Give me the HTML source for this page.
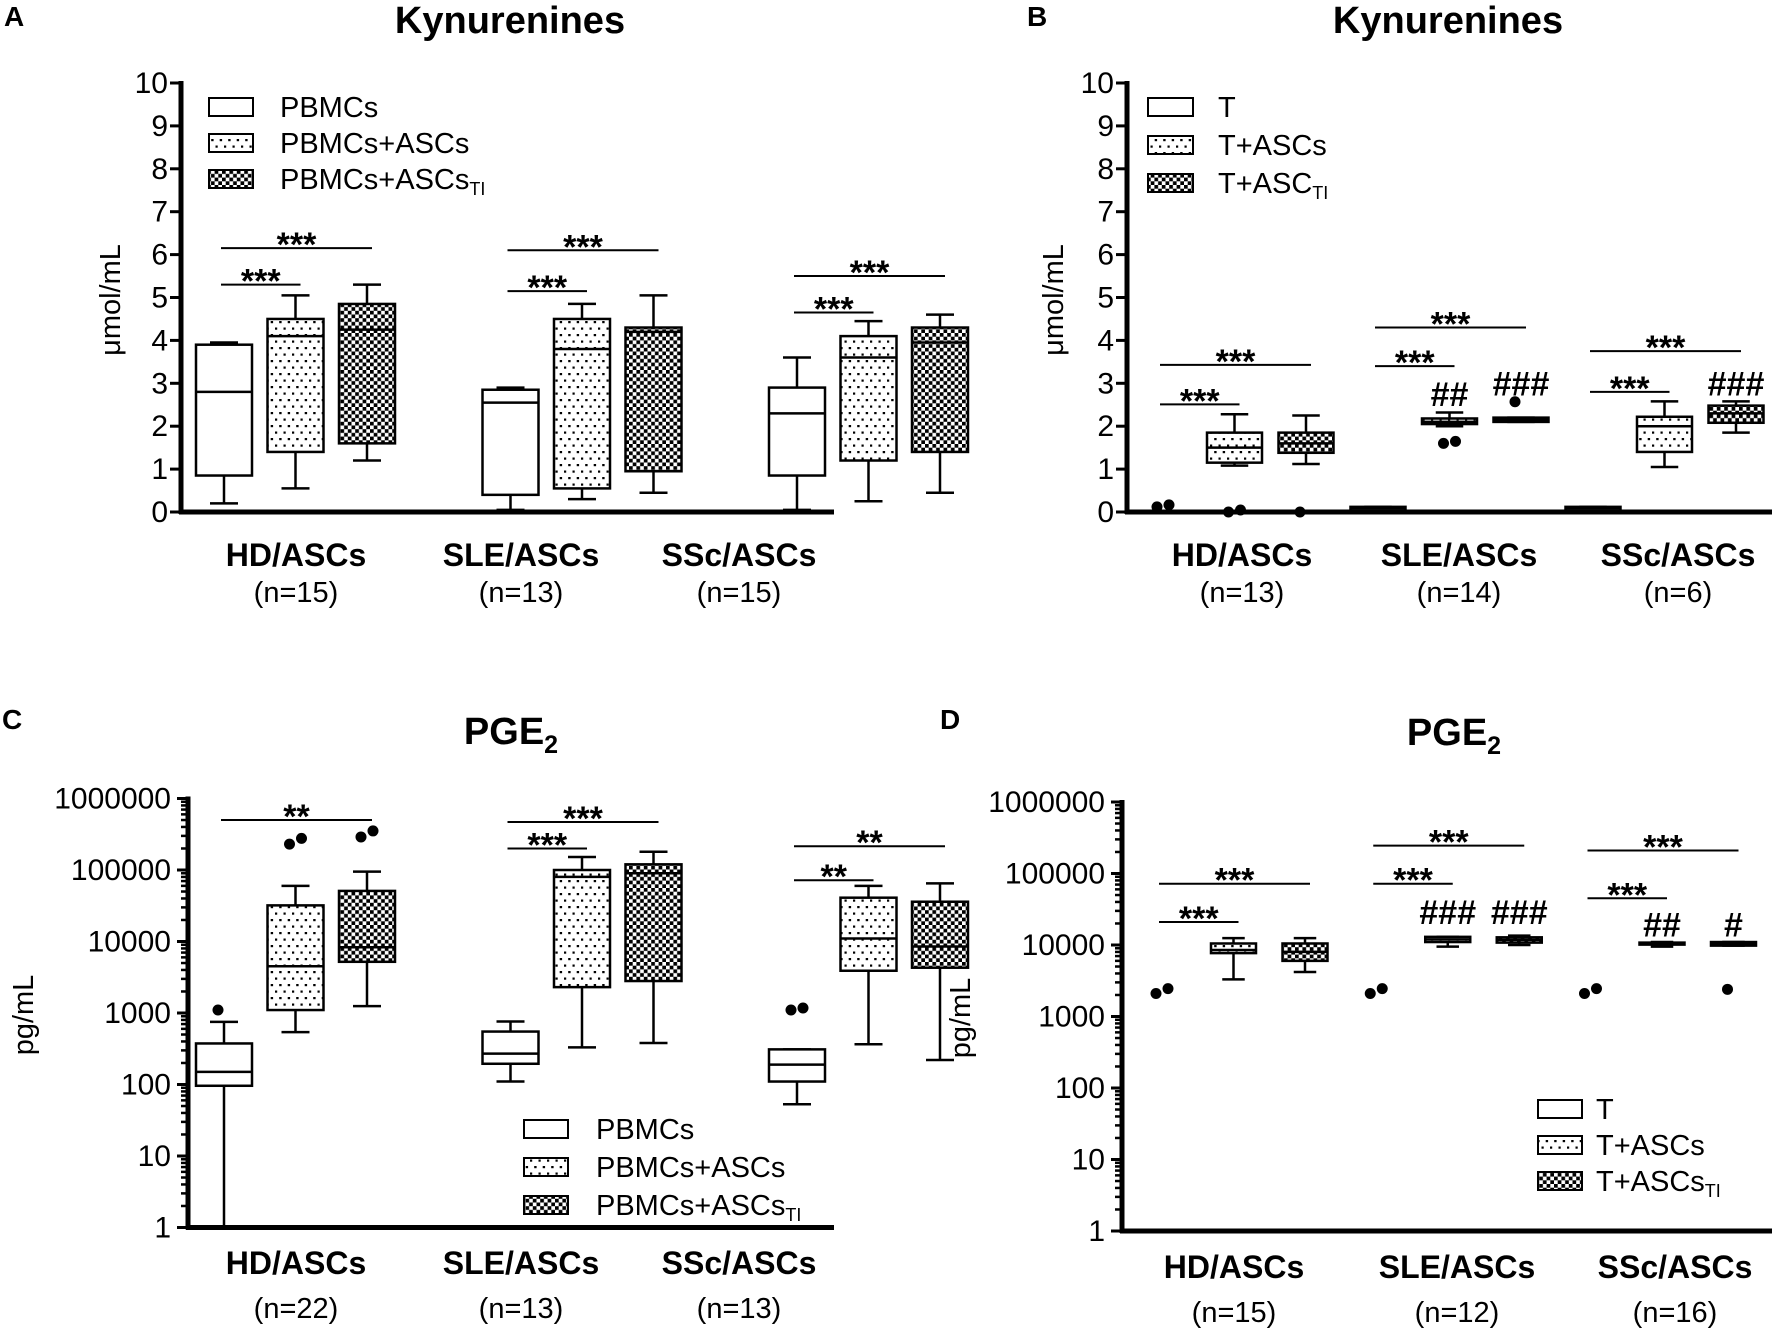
<!DOCTYPE html>
<html><head><meta charset="utf-8">
<style>
html,body{margin:0;padding:0;background:#fff;overflow:hidden;}
svg{display:block;font-family:"Liberation Sans",Arial,sans-serif;}
</style></head>
<body>
<svg id="fig" width="1772" height="1330" viewBox="0 0 1772 1330" xmlns="http://www.w3.org/2000/svg">
<defs>
<pattern id="dots" width="8.5" height="13" patternUnits="userSpaceOnUse">
<rect width="8.5" height="13" fill="#fff"/>
<rect x="3" y="2.5" width="2.2" height="2.2" fill="#000"/>
<rect x="7.2" y="9" width="2.2" height="2.2" fill="#000"/>
<rect x="-1.1" y="9" width="2.2" height="2.2" fill="#000"/>
</pattern>
<pattern id="check" width="7.4" height="7.4" patternUnits="userSpaceOnUse">
<rect width="7.4" height="7.4" fill="#fff"/>
<rect x="0" y="0" width="3.7" height="3.7" fill="#000"/>
<rect x="3.7" y="3.7" width="3.7" height="3.7" fill="#000"/>
</pattern>
</defs>
<g id="root"></g>
</svg>
<script>
// ---------- DATA ----------
const groupsA = ["HD/ASCs","SLE/ASCs","SSc/ASCs"];
const nA = ["(n=15)","(n=13)","(n=15)"];
const boxesA = [ // [whiskLo, q1, median, q3, whiskHi]
  [[0.2,0.85,2.8,3.9,3.95],[0.55,1.4,4.1,4.5,5.05],[1.2,1.6,4.25,4.85,5.3]],
  [[0.05,0.4,2.55,2.85,2.9],[0.3,0.55,3.8,4.5,4.85],[0.45,0.95,4.2,4.3,5.05]],
  [[0.05,0.85,2.3,2.9,3.6],[0.25,1.2,3.6,4.1,4.45],[0.45,1.4,3.95,4.3,4.6]]
];
const outliersA = [];
const sigA = [[0,0,1,5.3,"***"],[0,0,2,6.15,"***"],[1,0,1,5.15,"***"],[1,0,2,6.1,"***"],[2,0,1,4.65,"***"],[2,0,2,5.5,"***"]];
const hashA = [];
const legendA = ["PBMCs","PBMCs+ASCs","PBMCs+ASCs"];

const groupsB = ["HD/ASCs","SLE/ASCs","SSc/ASCs"];
const nB = ["(n=13)","(n=14)","(n=6)"];
const boxesB = [
  [null,[1.08,1.15,1.5,1.85,2.28],[1.12,1.38,1.6,1.85,2.25]],
  [[0.04,0.04,0.1,0.12,0.12],[2.0,2.05,2.1,2.18,2.32],[2.1,2.1,2.15,2.2,2.2]],
  [[0.04,0.04,0.1,0.12,0.12],[1.05,1.4,2.0,2.22,2.58],[1.85,2.08,2.3,2.48,2.58]]
];
const outliersB = [[0,0,0.12],[0,0,0.12],[0,1,0],[0,1,0],[0,2,0],[1,1,1.6],[1,1,1.6],[1,2,2.57]];
const sigB = [[0,0,1,2.51,"***"],[0,0,2,3.43,"***"],[1,0,1,3.4,"***"],[1,0,2,4.3,"***"],[2,0,1,2.8,"***"],[2,0,2,3.75,"***"]];
const hashB = [[1,1,2.75,"##"],[1,2,3.0,"###"],[2,2,3.0,"###"]];
const legendB = ["T","T+ASCs","T+ASC"];

const groupsC = ["HD/ASCs","SLE/ASCs","SSc/ASCs"];
const nC = ["(n=22)","(n=13)","(n=13)"];
const boxesC = [
  [[1,96,150,375,750],[540,1100,4500,32000,60000],[1250,5200,8300,51000,95000]],
  [[110,195,270,550,760],[330,2300,80000,100000,152000],[380,2800,90000,120000,180000]],
  [[53,110,190,310,310],[365,3900,11000,41000,60000],[220,4300,8500,36000,65000]]
];
const outliersC = [[0,0,1100],[0,1,230000],[0,1,260000],[0,2,290000],[0,2,330000],[2,0,1100],[2,0,1100]];
const sigC = [[0,0,2,500000,"**"],[1,0,1,200000,"***"],[1,0,2,470000,"***"],[2,0,1,72000,"**"],[2,0,2,215000,"**"]];
const hashC = [];
const legendC = ["PBMCs","PBMCs+ASCs","PBMCs+ASCs"];

const groupsD = ["HD/ASCs","SLE/ASCs","SSc/ASCs"];
const nD = ["(n=15)","(n=12)","(n=16)"];
const boxesD = [
  [null,[3300,7700,8500,10500,12500],[4200,6000,8000,10500,12500]],
  [null,[9500,11000,12000,13000,13000],[10000,10800,11800,12800,13500]],
  [null,[9500,10200,10500,10800,11000],[9800,9800,10400,11000,11000]]
];
const outliersD = [[0,0,2100],[0,0,2300],[1,0,2100],[1,0,2300],[2,0,2100],[2,0,2300],[2,2,2400]];
const sigD = [[0,0,1,21000,"***"],[0,0,2,72000,"***"],[1,0,1,72000,"***"],[1,0,2,245000,"***"],[2,0,1,45000,"***"],[2,0,2,210000,"***"]];
const hashD = [[1,1,29000,"###"],[1,2,29000,"###"],[2,1,19500,"##"],[2,2,19500,"#"]];
const legendD = ["T","T+ASCs","T+ASCs"];

const linTicks = [0,1,2,3,4,5,6,7,8,9,10];
const logTicks = [1,10,100,1000,10000,100000,1000000];
const logTickLabels = ["1","10","100","1000","10000","100000","1000000"];

// ---------- DRAW ----------
const NS="http://www.w3.org/2000/svg";
const root=document.getElementById('root');
function el(tag,attrs,parent,txt){const e=document.createElementNS(NS,tag);for(const k in attrs)e.setAttribute(k,attrs[k]);if(txt!==undefined)e.textContent=txt;(parent||root).appendChild(e);return e;}
const fills=["#fff","url(#dots)","url(#check)"];

function panel(cfg){
  const g=el('g',{});
  
  
  const log=cfg.log;
  const Y=v=>{ if(log){return cfg.yBot-(Math.log10(Math.max(v,1)))*(cfg.yBot-cfg.yTop)/6;} return cfg.yBot-v*(cfg.yBot-cfg.yTop)/10; };
  const X=(gi,si)=>cfg.x0+gi*cfg.gStep+si*cfg.sStep;
  const L=el('text',{x:cfg.letter[1],y:cfg.letter[2],'font-size':28,'font-weight':'bold'},g,cfg.letter[0]);
  
  
  const T=el('text',{x:cfg.title[0],y:cfg.title[1],'font-size':38,'font-weight':'bold','text-anchor':'middle'},g);
  
  
  if(cfg.pge){el('tspan',{},T,'PGE');el('tspan',{'font-size':25,dy:9},T,'2');}
  else T.textContent='Kynurenines';
  const yt=el('text',{x:0,y:0,'font-size':29,'text-anchor':'middle',transform:`translate(${cfg.ytitle[0]},${cfg.ytitle[1]}) rotate(-90)`},g,cfg.ylabel);
  
  
  const ya=el('line',{x1:cfg.ax,y1:cfg.yTop-2,x2:cfg.ax,y2:cfg.yBot+2,stroke:'#000','stroke-width':5},g);
  
  
  const xa=el('line',{x1:cfg.ax-2,y1:cfg.yBot,x2:cfg.axEnd,y2:cfg.yBot,stroke:'#000','stroke-width':5},g);
  
  
  const ticks=log?logTicks:linTicks;
  ticks.forEach((t,i)=>{
    const y=Y(t);
    el('line',{x1:cfg.ax-11,y1:y,x2:cfg.ax,y2:y,stroke:'#000','stroke-width':3},g);
    const lab=el('text',{x:cfg.ax-(log?17:13),y:y+10,'font-size':30,'text-anchor':'end'},g,log?logTickLabels[i]:String(t));
    
    
    if(log&&i<ticks.length-1){for(let m=2;m<=9;m++){const ym=Y(t*m);el('line',{x1:cfg.ax-7,y1:ym,x2:cfg.ax,y2:ym,stroke:'#000','stroke-width':2.5},g);}}
  });
  cfg.boxes.forEach((grp,gi)=>grp.forEach((b,si)=>{
    if(!b)return;
    const cx=X(gi,si),w=cfg.bw,bg=el('g',{},g);
    
    
    const [lo,q1,md,q3,hi]=b.map(Y);
    el('line',{x1:cx,y1:hi,x2:cx,y2:q3,stroke:'#000','stroke-width':2.5},bg);
    el('line',{x1:cx,y1:q1,x2:cx,y2:lo,stroke:'#000','stroke-width':2.5},bg);
    el('line',{x1:cx-w/4,y1:hi,x2:cx+w/4,y2:hi,stroke:'#000','stroke-width':2.5},bg);
    el('line',{x1:cx-w/4,y1:lo,x2:cx+w/4,y2:lo,stroke:'#000','stroke-width':2.5},bg);
    el('rect',{x:cx-w/2,y:q3,width:w,height:Math.max(q1-q3,2),fill:fills[si],stroke:'#000','stroke-width':2.5},bg);
    el('line',{x1:cx-w/2,y1:md,x2:cx+w/2,y2:md,stroke:'#000','stroke-width':2.5},bg);
  }));
  const seen={};
  cfg.outliers.forEach(o=>{
    const k=o[0]+'_'+o[1];seen[k]=(seen[k]||0)+1;
    const off=seen[k]===1?-6:6;
    const c=el('circle',{cx:X(o[0],o[1])+off,cy:Y(o[2])-(seen[k]===1?0:2),r:5.5,fill:'#000'},g);
    
    
  });
  cfg.sig.forEach(s=>{
    const x1=X(s[0],s[1])-3,x2=X(s[0],s[2])+5,y=Y(s[3]);
    const sg=el('g',{},g);
    
    
    el('line',{x1:x1,y1:y,x2:x2,y2:y,stroke:'#000','stroke-width':2},sg);
    el('text',{x:(x1+x2)/2,y:y+8,'font-size':34,'font-weight':'bold','text-anchor':'middle'},sg,s[4]);
  });
  cfg.hash.forEach(h=>{
    const t=el('text',{x:X(h[0],h[1]),y:Y(h[2])+12,'font-size':34,'font-weight':'bold','text-anchor':'middle'},g,h[3]);
    
    
  });
  cfg.groups.forEach((gn,i)=>{
    const t=el('text',{x:cfg.glab[i],y:cfg.glabY,'font-size':32,'font-weight':'bold','text-anchor':'middle'},g,gn);
    
    
    const n=el('text',{x:cfg.glab[i],y:cfg.glabY+cfg.nOff,'font-size':29,'text-anchor':'middle'},g,cfg.ns[i]);
    
    
  });
  cfg.legend.forEach((lt,i)=>{
    const lg=el('g',{},g);
    
    
    const y=cfg.leg[1]+i*cfg.leg[3];
    el('rect',{x:cfg.leg[0],y:y-9,width:cfg.leg[4],height:18,fill:fills[i],stroke:'#000','stroke-width':2},lg);
    const t=el('text',{x:cfg.leg[2],y:y+10,'font-size':29},lg,lt);
    if(i===2){el('tspan',{'font-size':18,dy:6},t,'TI');}
  });
}

panel({name:'panel-a',log:false,letter:['A',4,26],title:[510,33],ylabel:'\u03bcmol/mL',ytitle:[120,300],
  ax:181,axEnd:834,yTop:83,yBot:512,x0:224,gStep:286.5,sStep:71.5,bw:56,
  boxes:boxesA,outliers:outliersA,sig:sigA,hash:hashA,groups:groupsA,ns:nA,glab:[296,521,739],glabY:566,nOff:36,
  legend:legendA,leg:[209,107,280,36,44]});
panel({name:'panel-b',log:false,letter:['B',1027,26],title:[1448,33],ylabel:'\u03bcmol/mL',ytitle:[1063,300],
  ax:1127,axEnd:1772,yTop:83,yBot:512,x0:1163,gStep:215,sStep:71.5,bw:55,
  boxes:boxesB,outliers:outliersB,sig:sigB,hash:hashB,groups:groupsB,ns:nB,glab:[1242,1459,1678],glabY:566,nOff:36,
  legend:legendB,leg:[1148,107,1218,38,45]});
panel({name:'panel-c',log:true,pge:true,letter:['C',2,729],title:[511,744],ylabel:'pg/mL',ytitle:[33,1015],
  ax:188,axEnd:834,yTop:798.5,yBot:1227.5,x0:224,gStep:286.5,sStep:71.5,bw:56,
  boxes:boxesC,outliers:outliersC,sig:sigC,hash:hashC,groups:groupsC,ns:nC,glab:[296,521,739],glabY:1274,nOff:44,
  legend:legendC,leg:[524,1129,596,38,44]});
panel({name:'panel-d',log:true,pge:true,letter:['D',940,729],title:[1454,745],ylabel:'pg/mL',ytitle:[970,1018],
  ax:1122,axEnd:1772,yTop:802,yBot:1231,x0:1162,gStep:214.25,sStep:71.5,bw:45,
  boxes:boxesD,outliers:outliersD,sig:sigD,hash:hashD,groups:groupsD,ns:nD,glab:[1234,1457,1675],glabY:1278,nOff:44,
  legend:legendD,leg:[1538,1109,1596,36,44]});
</script>
</body></html>
